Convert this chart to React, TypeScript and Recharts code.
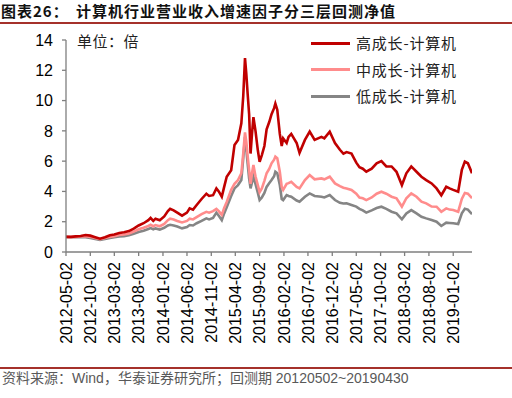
import React from 'react'
import { Line, LineChart, XAxis, YAxis } from 'recharts'

// 回测日期与三层净值
const dates = [
  '2012-05-02', '2012-06-02', '2012-07-02', '2012-08-02', '2012-09-02', '2012-10-02',
  '2012-11-02', '2012-12-02', '2013-01-02', '2013-02-02', '2013-03-02', '2013-04-02',
  '2013-05-02', '2013-06-02', '2013-07-02', '2013-08-02', '2013-09-02', '2013-10-02',
  '2013-10-16', '2013-11-02', '2013-11-16', '2013-12-13', '2014-01-10', '2014-02-02',
  '2014-02-16', '2014-03-10', '2014-04-02', '2014-05-02', '2014-06-02', '2014-06-19',
  '2014-07-10', '2014-08-02', '2014-09-02', '2014-10-02', '2014-10-19', '2014-11-13',
  '2014-12-04', '2014-12-19', '2015-01-07', '2015-01-22', '2015-02-07', '2015-03-07',
  '2015-03-28', '2015-04-19', '2015-05-10', '2015-05-22', '2015-06-02', '2015-06-10',
  '2015-06-19', '2015-06-28', '2015-07-07', '2015-07-16', '2015-07-25', '2015-08-07',
  '2015-08-22', '2015-09-02', '2015-09-16', '2015-10-02', '2015-10-16', '2015-11-02',
  '2015-11-16', '2015-12-02', '2015-12-10', '2015-12-22', '2016-01-07', '2016-01-19',
  '2016-01-28', '2016-02-19', '2016-03-02', '2016-03-19', '2016-04-22', '2016-05-10',
  '2016-06-13', '2016-07-13', '2016-08-13', '2016-09-25', '2016-10-13', '2016-11-16',
  '2016-12-19', '2017-01-19', '2017-02-10', '2017-03-02', '2017-04-02', '2017-05-02',
  '2017-05-22', '2017-06-12', '2017-07-04', '2017-08-07', '2017-09-07', '2017-10-07',
  '2017-11-07', '2017-12-10', '2018-01-10', '2018-02-13', '2018-03-13', '2018-04-13',
  '2018-05-16', '2018-06-16', '2018-07-16', '2018-08-19', '2018-09-19', '2018-10-19',
  '2018-11-19', '2018-12-10', '2019-01-02', '2019-02-02', '2019-02-25', '2019-03-16',
  '2019-04-04', '2019-04-30',
]

const highGrowth = [
  1.0, 1.0, 1.03, 1.06, 1.12, 1.08,
  0.98, 0.88, 0.98, 1.1, 1.15, 1.25,
  1.3, 1.38, 1.55, 1.75, 1.9, 2.1,
  2.25, 2.05, 2.2, 2.1, 2.35, 2.7,
  2.85, 2.75, 2.6, 2.4, 2.6, 2.88,
  2.8, 3.1, 3.5, 3.85, 3.7, 3.75,
  4.2, 4.0, 3.65, 4.3, 4.97, 5.4,
  7.07, 7.4, 8.5, 10.3, 12.8, 11.8,
  10.4, 9.1, 6.5, 7.8, 8.9, 8.0,
  6.7, 5.95, 6.4, 7.0, 8.1, 8.6,
  9.1, 9.5, 9.8, 9.4, 7.8, 7.0,
  7.5, 7.2, 7.6, 7.8, 7.2, 6.55,
  7.4, 7.95, 7.4, 7.6, 7.5, 7.95,
  7.2, 6.75, 6.5, 6.6, 6.5, 5.9,
  5.6, 5.5, 5.3, 5.5, 5.86, 6.0,
  5.65, 5.65, 5.3, 4.42, 5.2, 5.65,
  5.3, 4.97, 4.75, 4.53, 4.2, 3.75,
  4.31, 4.2, 4.1, 3.98, 5.42, 5.97,
  5.86, 5.2,
]

const midGrowth = [
  1.0, 0.98, 1.0, 1.02, 1.05, 1.0,
  0.92, 0.84, 0.92, 1.0, 1.05, 1.12,
  1.15, 1.22, 1.35, 1.5, 1.6, 1.72,
  1.8, 1.7, 1.78, 1.7, 1.85, 2.1,
  2.2, 2.15, 2.05, 1.95, 2.05, 2.2,
  2.15, 2.3, 2.5, 2.65, 2.6, 2.7,
  2.85, 2.7, 2.45, 2.9, 3.3, 4.1,
  4.5, 4.75, 5.2, 6.5, 7.9, 7.3,
  6.3, 5.4, 4.5, 5.2, 5.75, 5.0,
  4.4, 3.95, 4.2, 4.7, 5.2, 5.5,
  5.86, 6.1, 6.3, 6.2, 5.3, 4.3,
  4.1, 4.5, 4.55, 4.64, 4.3, 4.2,
  4.75, 5.08, 4.8, 4.86, 4.8, 4.97,
  4.53, 4.35, 4.25, 4.2, 4.1, 3.85,
  3.6, 3.55, 3.43, 3.6, 3.85, 3.98,
  3.85, 3.65, 3.55, 3.0, 3.55, 3.87,
  3.65, 3.32, 3.21, 3.0, 2.99, 2.66,
  2.88, 2.8, 2.77, 2.66, 3.5, 3.9,
  3.85, 3.55,
]

const lowGrowth = [
  1.0, 0.97, 0.97, 0.97, 0.98, 0.93,
  0.86, 0.8, 0.86, 0.93, 0.97, 1.02,
  1.05, 1.1, 1.2, 1.32, 1.4, 1.52,
  1.58, 1.5, 1.56, 1.48, 1.6, 1.75,
  1.8, 1.75, 1.68, 1.56, 1.65, 1.78,
  1.75, 1.9, 2.05, 2.22, 2.15, 2.25,
  2.6, 2.4, 2.1, 2.55, 2.95, 3.7,
  4.2, 4.42, 4.75, 6.2, 7.6, 6.8,
  5.8, 4.86, 4.2, 4.6, 4.97, 4.5,
  3.9, 3.43, 3.6, 3.9, 4.3, 4.55,
  4.75, 5.0, 5.3, 5.2, 4.42, 3.5,
  3.43, 3.76, 3.7, 3.65, 3.4, 3.32,
  3.65, 3.87, 3.7, 3.65, 3.6, 3.76,
  3.43, 3.25, 3.2, 3.21, 3.1, 3.0,
  2.85, 2.75, 2.6, 2.75, 2.9, 2.99,
  2.85, 2.66, 2.55, 2.16, 2.55, 2.77,
  2.55, 2.33, 2.22, 2.11, 2.0, 1.72,
  1.94, 1.92, 1.9, 1.85, 2.55, 2.85,
  2.8, 2.5,
]

const tickLabels = [
  '2012-05-02', '2012-10-02', '2013-03-02', '2013-08-02', '2014-01-02', '2014-06-02',
  '2014-11-02', '2015-04-02', '2015-09-02', '2016-02-02', '2016-07-02', '2016-12-02',
  '2017-05-02', '2017-10-02', '2018-03-02', '2018-08-02', '2019-01-02',
]
const yTicks = [0, 2, 4, 6, 8, 10, 12, 14]

const seriesNames = ['高成长-计算机', '中成长-计算机', '低成长-计算机']
const seriesKeys = ['high', 'mid', 'low']
const seriesColors = ['#C00000', '#FF8C8C', '#858585']

const START = '2012-05-02'
const END = '2019-04-30'

const toTime = (d: string) => {
  const [y, m, day] = d.split('-').map(Number)
  return Date.UTC(y, m - 1, day)
}

const chartData = dates.map((d, i) => ({
  t: toTime(d),
  high: highGrowth[i],
  mid: midGrowth[i],
  low: lowGrowth[i],
}))

const AXIS_GRAY = '#7F7F7F'
const LATIN = 'Arial, "Liberation Sans", sans-serif'
const CJK = '"Noto Sans CJK SC", sans-serif'

const DateTick = ({ x, y, payload }: any) => (
  <g transform={`translate(${x},${y})`}>
    <text
      transform='rotate(-90)'
      textAnchor='end'
      dy='0.36em'
      fontSize={16}
      fontFamily={LATIN}
      fill='#000'
    >
      {new Date(payload.value).toISOString().slice(0, 10)}
    </text>
  </g>
)

const titleStyle: React.CSSProperties = {
  position: 'absolute',
  top: 0,
  fontFamily: CJK,
  fontWeight: 700,
  fontSize: 15,
  lineHeight: '22px',
  letterSpacing: 1,
  color: '#111',
  whiteSpace: 'nowrap',
}

const App = (): JSX.Element => {
  return (
    <div
      style={{
        position: 'absolute',
        left: 0,
        top: 0,
        width: 512,
        height: 398,
        background: '#fff',
        overflow: 'hidden',
      }}
    >
      {/* TITLE */}
      <div style={{ ...titleStyle, left: 1 }}>图表26：</div>
      <div style={{ ...titleStyle, left: 76 }}>计算机行业营业收入增速因子分三层回测净值</div>
      <div style={{ position: 'absolute', left: 0, top: 22, width: 512, height: 2, background: '#A5312B' }} />

      <LineChart
        width={512}
        height={360}
        data={chartData}
        margin={{ top: 40, right: 40, bottom: 8, left: 6 }}
        style={{ position: 'absolute', left: 0, top: 0 }}
      >
        <XAxis
          dataKey='t'
          type='number'
          domain={[toTime(START), toTime(END)]}
          ticks={tickLabels.map(toTime)}
          tick={<DateTick />}
          height={100}
          tickSize={4}
          tickMargin={6}
          axisLine={{ stroke: AXIS_GRAY, strokeWidth: 1.3 }}
          tickLine={{ stroke: AXIS_GRAY, strokeWidth: 1.3 }}
          interval={0}
          allowDataOverflow
        />
        <YAxis
          domain={[0, 14]}
          ticks={yTicks}
          width={60}
          tickSize={4}
          tickMargin={9}
          axisLine={{ stroke: AXIS_GRAY, strokeWidth: 1.3 }}
          tickLine={{ stroke: AXIS_GRAY, strokeWidth: 1.3 }}
          tick={{ fontSize: 16, fontFamily: LATIN, fill: '#000' }}
          interval={0}
        />

        {/* LOW / MID / HIGH, high drawn last so it sits on top */}
        {[2, 1, 0].map((i) => (
          <Line
            key={seriesKeys[i]}
            dataKey={seriesKeys[i]}
            name={seriesNames[i]}
            type='linear'
            stroke={seriesColors[i]}
            strokeWidth={2.6}
            dot={false}
            isAnimationActive={false}
          />
        ))}
      </LineChart>

      {/* UNIT LABEL */}
      <div
        style={{
          position: 'absolute',
          left: 77,
          top: 30,
          fontFamily: CJK,
          fontSize: 15,
          lineHeight: '22px',
          color: '#222',
          letterSpacing: 0.5,
        }}
      >
        单位：倍
      </div>

      {/* LEGEND */}
      {seriesNames.map((name, i) => (
        <div
          key={name}
          style={{
            position: 'absolute',
            left: 311,
            top: 32 + i * 26.5,
            height: 22,
            display: 'flex',
            alignItems: 'center',
            whiteSpace: 'nowrap',
          }}
        >
          <div style={{ width: 39, height: 3, background: seriesColors[i] }} />
          <span
            style={{
              marginLeft: 6,
              fontFamily: CJK,
              fontSize: 15,
              lineHeight: '22px',
              letterSpacing: 0.8,
              color: '#222',
            }}
          >
            {name}
          </span>
        </div>
      ))}

      {/* SOURCE */}
      <div style={{ position: 'absolute', left: 0, top: 367, width: 512, height: 2, background: '#A5312B' }} />
      <div
        style={{
          position: 'absolute',
          left: 2,
          top: 368,
          fontFamily: `Arial, "Liberation Sans", ${CJK}`,
          fontSize: 14,
          lineHeight: '20px',
          color: '#595959',
          whiteSpace: 'nowrap',
        }}
      >
        资料来源：Wind，华泰证券研究所；回测期 20120502~20190430
      </div>
    </div>
  )
}

export default App
